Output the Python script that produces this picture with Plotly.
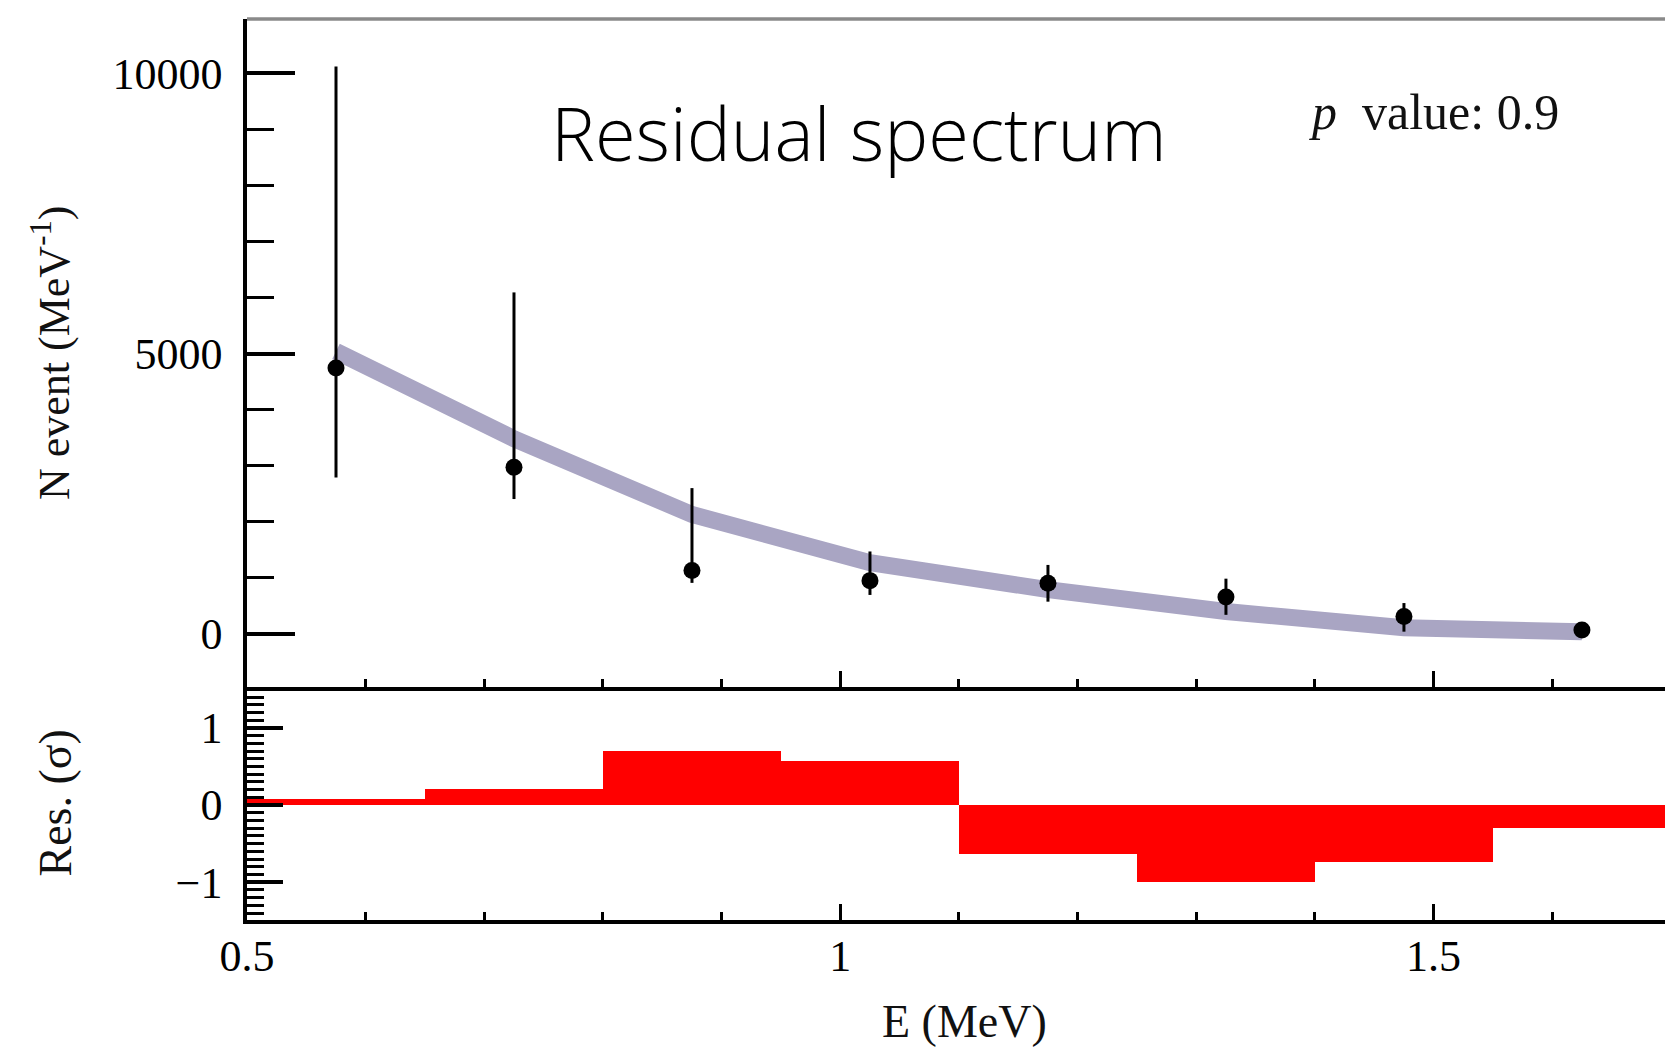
import plotly.graph_objects as go

# ---- data ----
energy = [0.575, 0.725, 0.875, 1.025, 1.175, 1.325, 1.475, 1.625]
n_event = [4740, 2970, 1130, 950, 905, 660, 310, 70]
err_plus = [5380, 3120, 1470, 520, 325, 325, 240, 60]
err_minus = [1950, 565, 220, 255, 330, 320, 270, 60]
model = [5040, 3480, 2130, 1270, 790, 400, 110, 38]
residual = [0.08, 0.21, 0.70, 0.57, -0.63, -1.00, -0.74, -0.30]
bin_width = 0.15

serif = "Liberation Serif, Times New Roman, serif"
tick_font = dict(family=serif, size=44, color="black")

fig = go.Figure()

fig.add_trace(go.Scatter(
    x=energy, y=model, mode="lines",
    line=dict(color="#A9A5C3", width=17),
    xaxis="x", yaxis="y", showlegend=False, hoverinfo="skip"))

fig.add_trace(go.Scatter(
    x=energy, y=n_event, mode="markers",
    marker=dict(color="black", size=17),
    error_y=dict(type="data", symmetric=False, array=err_plus,
                 arrayminus=err_minus, color="black", thickness=3, width=0),
    xaxis="x", yaxis="y", showlegend=False))

fig.add_trace(go.Bar(
    x=energy, y=residual, width=bin_width, base=0,
    marker=dict(color="#FF0000", line=dict(width=0)),
    xaxis="x2", yaxis="y2", showlegend=False))

W, H = 1665, 1049
ml, mr, mt, mb = 247, 0, 19, 129
plot_h = H - mt - mb
split = (920 - 687) / plot_h

xcommon = dict(
    range=[0.5, 1.695], showgrid=False, zeroline=False,
    showline=True, linecolor="black", linewidth=3.5,
    ticks="inside", ticklen=16, tickwidth=3, tickcolor="black",
    tick0=0.5, dtick=0.5,
    minor=dict(ticks="inside", ticklen=8, tickwidth=2.5, tickcolor="black", dtick=0.1, showgrid=False),
)

fig.update_layout(
    width=W, height=H,
    margin=dict(l=ml, r=mr, t=mt, b=mb),
    paper_bgcolor="white", plot_bgcolor="white",
    bargap=0,
    xaxis=dict(**xcommon, domain=[0, 1], anchor="y", showticklabels=False, matches="x2"),
    yaxis=dict(domain=[split, 1], anchor="x", range=[-947, 10966],
               showgrid=False, zeroline=False, showline=True,
               linecolor="black", linewidth=3.5,
               ticks="inside", ticklen=48, tickwidth=3.5, tickcolor="black",
               tickvals=[0, 5000, 10000], ticktext=["0", "5000", "10000"],
               tickfont=tick_font, ticklabelstandoff=12,
               minor=dict(ticks="inside", ticklen=27, tickwidth=3, tickcolor="black",
                          dtick=1000, showgrid=False)),
    xaxis2=dict(**xcommon, domain=[0, 1], anchor="y2",
                tickvals=[0.5, 1.0, 1.5], ticktext=["0.5", "1", "1.5"],
                tickfont=tick_font, ticklabelstandoff=-6),
    yaxis2=dict(domain=[0, split], anchor="x2", range=[-1.49, 1.53],
                showgrid=False, zeroline=False, showline=True,
                linecolor="black", linewidth=3.5,
                ticks="inside", ticklen=36, tickwidth=3.5, tickcolor="black",
                tickvals=[-1, 0, 1], ticktext=["−1", "0", "1"],
                tickfont=tick_font, ticklabelstandoff=12,
                minor=dict(ticks="inside", ticklen=17, tickwidth=3, tickcolor="black",
                           dtick=0.1, showgrid=False)),
)

# top frame line (grey)
fig.add_shape(type="line", xref="paper", yref="y domain", x0=0, x1=1, y0=1, y1=1,
              line=dict(color="#8a8a8a", width=3.5))

# texts
fig.add_annotation(text="Residual spectrum", xref="x", yref="y", x=1.016, y=8950,
                   showarrow=False, xanchor="center", yanchor="middle",
                   font=dict(family="Open Sans, Inter, sans-serif", size=74,
                             color="black", weight=300))
fig.add_annotation(text="<i>p</i>  value: 0.9", xref="x", yref="y", x=1.50, y=9300,
                   showarrow=False, xanchor="center", yanchor="middle",
                   font=dict(family=serif, size=50, color="#111111"))

fig.add_annotation(text="N event (MeV<sup>-1</sup>)", xref="paper", yref="y domain",
                   x=0, y=0.5, xshift=-196, textangle=-90, showarrow=False,
                   xanchor="center", yanchor="middle",
                   font=dict(family=serif, size=44, color="#111111"))
fig.add_annotation(text="Res. (σ)", xref="paper", yref="y2 domain",
                   x=0, y=0.5, xshift=-192, textangle=-90, showarrow=False,
                   xanchor="center", yanchor="middle",
                   font=dict(family=serif, size=46, color="#111111"))
fig.add_annotation(text="E (MeV)", xref="x2", yref="paper", x=1.105, y=0, yshift=-101,
                   showarrow=False, xanchor="center", yanchor="middle",
                   font=dict(family=serif, size=46, color="#111111"))

fig.write_html("out.html", config={"displayModeBar": False},
               post_script="document.body.style.margin='0';document.body.style.overflow='hidden';")
